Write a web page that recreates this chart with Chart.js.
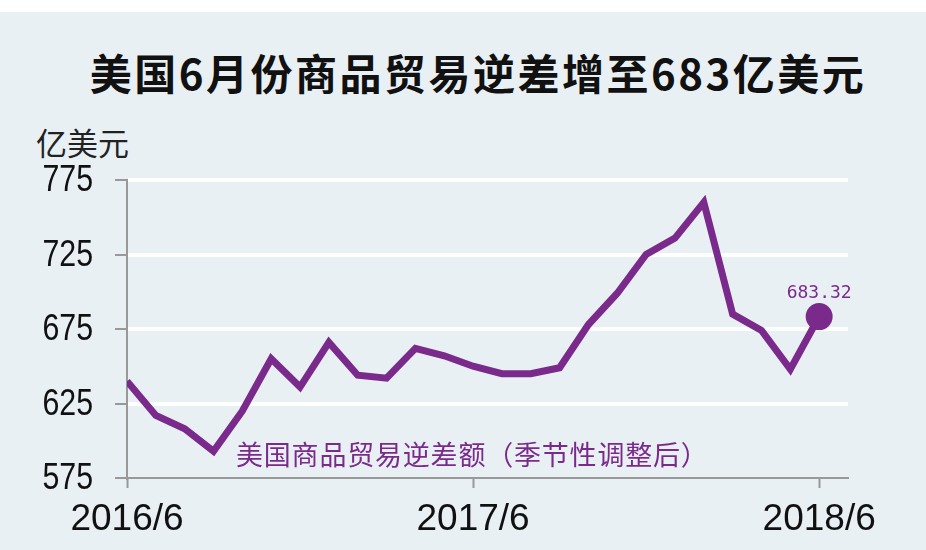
<!DOCTYPE html>
<html>
<head>
<meta charset="utf-8">
<script src="https://cdn.jsdelivr.net/npm/chart.js@4"></script>
<style>
    html, body { margin: 0; padding: 0; }
    body { width: 926px; height: 550px; background: #e9f0f4; position: relative; overflow: hidden; }
    .top-strip { position: absolute; left: 0; top: 0; width: 926px; height: 12px; background: #fff; }
    .title { position: absolute; left: 15px; top: 42px; width: 926px; text-align: center;
        font-family: "Noto Sans CJK SC", sans-serif; font-weight: 700; font-size: 42px;
        color: #111; letter-spacing: 2.5px; line-height: 60px; }
    .unit { position: absolute; left: 36px; top: 121px; font-family: "Noto Sans CJK SC", sans-serif;
        font-size: 31px; color: #222; line-height: 42px; }
    #tradeChart { position: absolute; left: 0; top: 0; }
</style>
</head>
<body>
<div class="top-strip"></div>
<div class="title">美国6月份商品贸易逆差增至683亿美元</div>
<div class="unit">亿美元</div>
<canvas id="tradeChart" width="926" height="550"></canvas>
<script>
// months from 2016/6 to 2018/6
const months = [
    '2016/6', '2016/7', '2016/8', '2016/9', '2016/10', '2016/11', '2016/12',
    '2017/1', '2017/2', '2017/3', '2017/4', '2017/5', '2017/6', '2017/7',
    '2017/8', '2017/9', '2017/10', '2017/11', '2017/12', '2018/1', '2018/2',
    '2018/3', '2018/4', '2018/5', '2018/6'
];
const deficit = [
    640, 617, 608, 593, 620, 655, 636, 666, 644, 642, 662, 657, 650,
    645, 645, 649, 678, 699, 725, 736, 760, 685, 674, 648, 683.32
];
const xTickLabels = ['2016/6', '2017/6', '2018/6'];
const yTicks = [575, 625, 675, 725, 775];
const seriesName = '美国商品贸易逆差额（季节性调整后）';
const lastLabel = '683.32';

const purple = '#7a2a8b';
const xTickPositions = xTickLabels.map(l => months.indexOf(l));
const points = deficit.map((v, i) => ({ x: i, y: v }));

// text labels placed from the scales
const labelPlugin = {
    id: 'labelPlugin',
    afterDatasetsDraw(chart) {
        const { ctx, scales } = chart;
        const x = scales.x, y = scales.y;
        ctx.save();

        // narrow y tick labels
        ctx.fillStyle = '#111';
        ctx.font = '37px "Liberation Sans"';
        ctx.textAlign = 'right';
        ctx.textBaseline = 'middle';
        yTicks.forEach(t => {
            ctx.save();
            ctx.translate(93, y.getPixelForValue(t));
            ctx.scale(0.82, 1);
            ctx.fillText(String(t), 0, 1);
            ctx.restore();
        });

        ctx.fillStyle = purple;
        ctx.font = '27px "Noto Sans CJK SC"';
        ctx.textAlign = 'left';
        ctx.letterSpacing = '0.8px';
        ctx.fillText(seriesName, 236, 455);
        ctx.letterSpacing = '0px';

        const last = deficit.length - 1;
        ctx.font = '18px "DejaVu Sans Mono"';
        ctx.textAlign = 'center';
        ctx.textBaseline = 'alphabetic';
        ctx.fillText(lastLabel, x.getPixelForValue(last), y.getPixelForValue(deficit[last]) - 19);
        ctx.restore();
    }
};

const tradeChart = new Chart(document.getElementById('tradeChart'), {
    type: 'line',
    data: {
        datasets: [{
            label: seriesName,
            data: points,
            borderColor: purple,
            backgroundColor: purple,
            borderWidth: 7,
            tension: 0,
            borderJoinStyle: 'miter',
            pointRadius: ctx => ctx.dataIndex === deficit.length - 1 ? 10 : 0,
            pointHoverRadius: 0
        }]
    },
    options: {
        responsive: false,
        maintainAspectRatio: false,
        animation: false,
        devicePixelRatio: 1,
        layout: { padding: { left: 0, right: 78, top: 180, bottom: 0 } },
        plugins: {
            legend: { display: false },
            tooltip: { enabled: false }
        },
        scales: {
            x: {
                type: 'linear',
                min: 0,
                max: 25,
                afterBuildTicks: scale => {
                    scale.ticks = xTickPositions.map(v => ({ value: v }));
                },
                afterFit: scale => { scale.height = 72; },
                grid: {
                    drawOnChartArea: false,
                    tickLength: 10,
                    tickColor: '#999',
                    tickWidth: 2
                },
                border: { color: '#999', width: 2 },
                ticks: {
                    autoSkip: false,
                    maxRotation: 0,
                    padding: 10,
                    color: '#111',
                    font: { family: 'Liberation Sans', size: 37 },
                    callback: v => months[v]
                }
            },
            y: {
                min: 575,
                max: 775,
                afterBuildTicks: scale => {
                    scale.ticks = yTicks.map(v => ({ value: v }));
                },
                afterFit: scale => { scale.width = 127; },
                grid: {
                    color: ctx => ctx.tick && ctx.tick.value === 575 ? 'rgba(0,0,0,0)' : '#ffffff',
                    lineWidth: 4,
                    tickLength: 12,
                    tickColor: '#999',
                    tickWidth: 2
                },
                border: { color: '#999', width: 2 },
                ticks: { display: false }
            }
        }
    },
    plugins: [labelPlugin]
});
</script>
</body>
</html>
